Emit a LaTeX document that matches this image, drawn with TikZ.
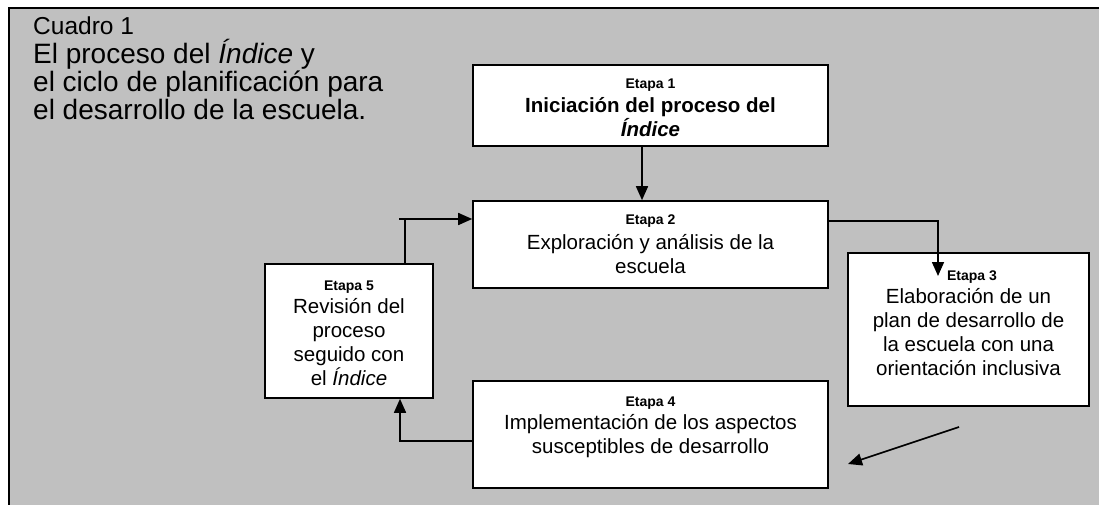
\documentclass[tikz,border=0pt]{standalone}
\usepackage{fontspec}
\setmainfont{Liberation Sans}
\usetikzlibrary{arrows.meta}
\definecolor{bg}{HTML}{C0C0C0}
\begin{document}
\begin{tikzpicture}[x=1pt,y=-1pt,
 box/.style={draw=black, fill=white, line width=1.6pt, inner sep=0pt},
 lab/.style={font=\fontsize{14}{16}\selectfont\bfseries, inner sep=0pt},
 body/.style={align=center, font=\fontsize{20.5}{24}\selectfont, inner sep=0pt},
 conn/.style={line width=1.6pt, -{Triangle[length=14pt,width=12pt]}},
 plain/.style={line width=1.6pt},
]
\useasboundingbox (0,0) rectangle (1099,505);
\fill[bg] (8,8) rectangle (1099,505);
\draw[line width=2pt] (8.5,505) -- (8.5,8) -- (1099,8);

% title
\node[anchor=base west, inner sep=0pt, font=\fontsize{24.5}{28}\selectfont] (cuadro) at (33,35) {Cuadro 1};
\node[anchor=north west, inner sep=0pt, align=left, font=\fontsize{28}{28}\selectfont] (titulo) at (33,39)
 {El proceso del \textit{Índice} y\\el ciclo de planificación para\\el desarrollo de la escuela.};

% boxes
\node[box, minimum width=355pt, minimum height=81pt] (b1) at (650.5,105.5) {};
\node[box, minimum width=355pt, minimum height=87pt] (b2) at (650.5,244.5) {};
\node[box, minimum width=241pt, minimum height=153pt] (b3) at (968.5,329.5) {};
\node[box, minimum width=355pt, minimum height=107pt] (b4) at (650.5,434.5) {};
\node[box, minimum width=168pt, minimum height=134pt] (b5) at (349,331) {};

% texts
\node[lab] (l1) at (650.5,85) {Etapa 1};
\node[body, font=\fontsize{20.5}{24}\selectfont\bfseries] (t1) at (650.5,117.5) {Iniciación del proceso del\\\textit{Índice}};
\node[lab] (l2) at (650.5,221) {Etapa 2};
\node[body] (t2) at (650.5,254.5) {Exploración y análisis de la\\escuela};
\node[lab] (l3) at (972,277) {Etapa 3};
\node[body] (t3) at (968.5,332) {Elaboración de un\\plan de desarrollo de\\la escuela con una\\orientación inclusiva};
\node[lab] (l4) at (650.5,403) {Etapa 4};
\node[body] (t4) at (650.5,436.5) {Implementación de los aspectos\\susceptibles de desarrollo};
\node[lab] (l5) at (349,287) {Etapa 5};
\node[body] (t5) at (349,342) {Revisión del\\proceso\\seguido con\\el \textit{Índice}};

% connectors
\draw[conn] ([xshift=-8.5pt]b1.south) -- ([xshift=-8.5pt]b2.north);
\coordinate (p3) at (938,276);
\draw[conn] ([yshift=23.5pt]b2.east) -| (p3);
\coordinate (k) at (405,219);
\draw[plain] ([xshift=-6pt]k) -- (k);
\draw[conn] (b5.north -| k) -- (k) -- (k -| b2.west);
\coordinate (m) at (400,441);
\draw[conn] (m -| b4.west) -- (m) -- (m |- b5.south);
\coordinate (a1) at (959,427);
\coordinate (a2) at (848,464);
\draw[conn] (a1) -- (a2);
\end{tikzpicture}
\end{document}
